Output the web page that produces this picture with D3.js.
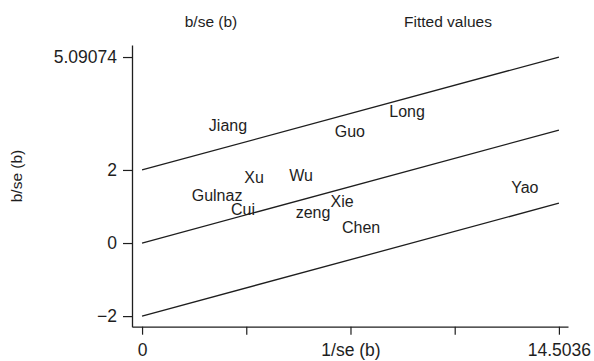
<!DOCTYPE html>
<html>
<head>
<meta charset="utf-8">
<script src="https://cdn.jsdelivr.net/npm/d3@7"></script>
<style>
  body { margin: 0; background: #fff; }
  svg { display: block; font-family: "Liberation Sans", Arial, Helvetica, sans-serif; }
</style>
</head>
<body>
<div id="chart"></div>
<script>
// Study labels and their coordinates (1/se, b/se)
const studies = ["Jiang", "Guo", "Long", "Xu", "Wu", "Gulnaz", "Cui", "zeng", "Xie", "Chen", "Yao"];
const precision = [2.99, 7.23, 9.22, 3.90, 5.53, 2.61, 3.51, 5.95, 6.96, 7.62, 13.32];
const zScores = [3.23, 3.07, 3.62, 1.81, 1.86, 1.32, 0.93, 0.85, 1.15, 0.44, 1.53];

// Fitted regression line through origin, with +/- 2 bands
const fitX = [0, 14.5036];
const fitY = [0, 3.09074];
const bandOffsets = [2, 0, -2];

// Axis ticks
const xTickValues = [0, 3.6259, 7.2518, 10.8777, 14.5036];
const xTickLabels = ["0", "", "1/se (b)", "", "14.5036"];
const yTickValues = [-2, 0, 2, 5.09074];
const yTickLabels = ["\u22122", "0", "2", "5.09074"];

const legendLabels = ["b/se (b)", "Fitted values"];

const width = 594, height = 361;
const ink = "#1e1e1e";

const svg = d3.select("#chart").append("svg")
    .attr("width", width)
    .attr("height", height);

const x = d3.scaleLinear()
    .domain([-0.35, 14.82])
    .range([132, 568]);

const y = d3.scaleLinear()
    .domain([-2.29, 5.42])
    .range([326.7, 45]);

// Axes
const xAxis = svg.append("g")
    .attr("transform", `translate(0,${y(-2.29)})`)
    .call(d3.axisBottom(x)
        .tickValues(xTickValues)
        .tickFormat((d, i) => xTickLabels[i])
        .tickSize(8)
        .tickSizeOuter(0)
        .tickPadding(9));

const yAxis = svg.append("g")
    .attr("transform", `translate(${x(-0.35)},0)`)
    .call(d3.axisLeft(y)
        .tickValues(yTickValues)
        .tickFormat((d, i) => yTickLabels[i])
        .tickSize(9)
        .tickSizeOuter(0)
        .tickPadding(6));

[xAxis, yAxis].forEach(g => {
    g.select(".domain").attr("stroke", ink).attr("stroke-width", 1.3);
    g.selectAll(".tick line").attr("stroke", ink).attr("stroke-width", 1.2);
    g.selectAll(".tick text")
        .attr("fill", ink)
        .style("font-size", "17.5px")
        .style("font-family", "'Liberation Sans', Arial, sans-serif");
});

// Y axis title
svg.append("text")
    .attr("transform", `translate(22,${(150 + 202) / 2}) rotate(-90)`)
    .attr("text-anchor", "middle")
    .attr("fill", ink)
    .style("font-size", "15.5px")
    .text("b/se (b)");

// Fitted line and bands
const line = d3.line()
    .x(d => x(d[0]))
    .y(d => y(d[1]));

bandOffsets.forEach(off => {
    svg.append("path")
        .datum(fitX.map((v, i) => [v, fitY[i] + off]))
        .attr("fill", "none")
        .attr("stroke", ink)
        .attr("stroke-width", 1.3)
        .attr("d", line);
});

// Study labels (markers hidden, labels only)
svg.selectAll(".study")
    .data(studies)
    .enter()
    .append("text")
    .attr("class", "study")
    .attr("x", (d, i) => x(precision[i]))
    .attr("y", (d, i) => y(zScores[i]))
    .attr("dy", "0.36em")
    .attr("text-anchor", "middle")
    .attr("fill", ink)
    .style("font-size", "16px")
    .text(d => d);

// Legend (text only)
svg.selectAll(".legend")
    .data(legendLabels)
    .enter()
    .append("text")
    .attr("class", "legend")
    .attr("x", (d, i) => [211, 448][i])
    .attr("y", 26.5)
    .attr("text-anchor", "middle")
    .attr("fill", ink)
    .style("font-size", "15.5px")
    .text(d => d);
</script>
</body>
</html>
